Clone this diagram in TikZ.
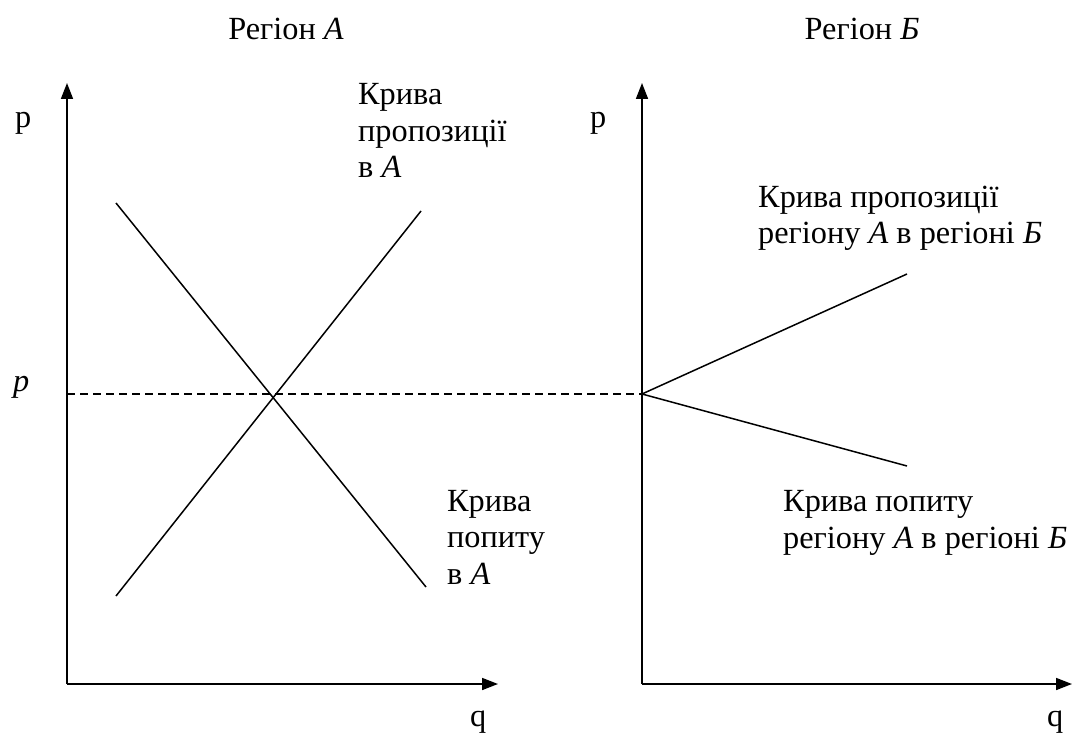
\documentclass[tikz,border=0pt]{standalone}
\usepackage{fontspec}
\setmainfont{Liberation Serif}
\usetikzlibrary{arrows.meta}
\begin{document}
\begin{tikzpicture}[x=1pt,y=-1pt,
  axis/.style={line width=1.7pt,-{Triangle[length=16pt,width=12pt]}},
  curve/.style={line width=1.5pt},
  guide/.style={line width=1.2pt,dash pattern=on 8pt off 5pt},
  lbl/.style={inner sep=0pt,font=\fontsize{32.3}{36.5}\selectfont,align=left},
  ttl/.style={inner sep=0pt,font=\fontsize{32.3}{36.5}\selectfont}]
\useasboundingbox (0,0) rectangle (1072,735);
% left panel
\coordinate (oA) at (67,684);
\coordinate (yA) at (67,83);
\coordinate (xA) at (498,684);
\coordinate (pA) at (67,394);
\coordinate (dA1) at (116,203);
\coordinate (dA2) at (426,587);
\coordinate (sA1) at (116,596);
\coordinate (sA2) at (421,211);
% right panel
\coordinate (oB) at (642,684);
\coordinate (yB) at (642,83);
\coordinate (xB) at (1072,684);
\coordinate (eB) at (642,394);
\coordinate (sB) at (907,274);
\coordinate (dB) at (907,466);

\draw[axis] (oA) -- (yA);
\draw[axis] (oA) -- (xA);
\draw[axis] (oB) -- (yB);
\draw[axis] (oB) -- (xB);
\draw[guide] (pA) -- (eB);
\draw[curve] (dA1) -- (dA2);
\draw[curve] (sA1) -- (sA2);
\draw[curve] (eB) -- (sB);
\draw[curve] (eB) -- (dB);

\node[ttl,anchor=base] (tA) at (286,40) {Регіон \textit{А}};
\node[ttl,anchor=base] (tB) at (862,40) {Регіон \textit{Б}};
\node[ttl,anchor=base west] (pa) at (15,128) {p};
\node[ttl,anchor=base west] (pb) at (590,128) {p};
\node[ttl,anchor=base west] (pp) at (13,392) {\textit{p}};
\node[ttl,anchor=base west] (qa) at (470,726) {q};
\node[ttl,anchor=base west] (qb) at (1047,726) {q};

% anchor "base" of a multi-line node is the baseline of its last line
\node[lbl,anchor=base west] (lsA) at (358,178) {Крива\\пропозиції\\в \textit{А}};
\node[lbl,anchor=base west] (ldA) at (447,584) {Крива\\попиту\\в \textit{А}};
\node[lbl,anchor=base west] (lsB) at (758,244) {Крива пропозиції\\регіону \textit{А} в регіоні \textit{Б}};
\node[lbl,anchor=base west] (ldB) at (783,548) {Крива попиту\\регіону \textit{А} в регіоні \textit{Б}};
\end{tikzpicture}
\end{document}
